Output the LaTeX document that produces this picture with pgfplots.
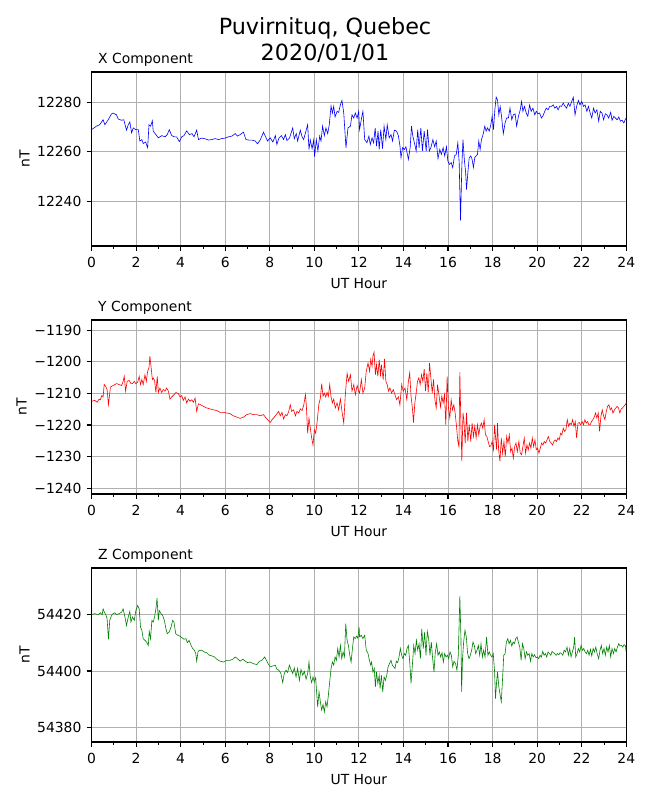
\documentclass[border=0pt]{standalone}
\usepackage{pgfplots}
\pgfplotsset{compat=1.18}
\usepackage{fontspec}
\setmainfont{DejaVu Sans}
\definecolor{gridgray}{HTML}{B0B0B0}
\definecolor{mplgreen}{HTML}{008000}
\newcommand{\tf}{\fontsize{13.9bp}{16bp}\selectfont}
\pgfplotsset{
 magstyle/.style={
  scale only axis, width=534.8bp, height=174bp, anchor=south west,
  xmin=0, xmax=24,
  scaled x ticks=false, scaled y ticks=false,
  xtick={0,2,4,6,8,10,12,14,16,18,20,22,24},
  xticklabels={0,2,4,6,8,10,12,14,16,18,20,22,24},
  minor xtick={1,3,5,7,9,11,13,15,17,19,21,23},
  tick align=outside, tick pos=left,
  major tick length=4.86bp, minor tick length=2.78bp,
  grid=major,
  major grid style={line width=1.05bp, draw=gridgray},
  axis line style={line width=1.11bp},
  major tick style={line width=1.11bp, black},
  minor tick style={line width=0.83bp, black},
  tick label style={font=\tf, inner sep=0pt},
  xticklabel style={yshift=-6.1bp},
  yticklabel style={xshift=-5bp},
  xlabel={UT Hour}, ylabel={nT},
  every axis x label/.style={at={(ticklabel cs:0.5,10.2bp)}, anchor=north, font=\tf, inner sep=0pt},
  every axis y label/.style={at={(ticklabel cs:0.5,7.5bp)}, rotate=90, anchor=south, font=\tf, inner sep=0pt},
  every axis title/.style={at={(axis description cs:0,1)}, anchor=base west, xshift=6.5bp, yshift=8.3bp, font=\tf, inner sep=0pt},
  clip=true,
 }
}
\begin{document}
\begin{tikzpicture}
\path[use as bounding box] (0,0) rectangle (650bp,800bp);
\node[anchor=base, font=\fontsize{22.3bp}{26bp}\selectfont, inner sep=0pt] at (325bp,765.7bp) {Puvirnituq, Quebec};
\node[anchor=base, font=\fontsize{22.3bp}{26bp}\selectfont, inner sep=0pt] at (325bp,739bp) {2020/01/01};

% ---------- X component ----------
\begin{axis}[magstyle, at={(91.5bp,554bp)},
  ymin=12221.9, ymax=12292.2,
  ytick={12240,12260,12280}, yticklabels={12240,12260,12280},
  title={X Component}]
\addplot[blue, line width=0.6bp] coordinates {
(0,12268.9)(0.22,12270.3)(0.37,12270.9)(0.52,12272.9)(0.60,12270.9)(0.75,12272.9)(0.90,12275.3)(0.97,12275.6)
(1.12,12274.9)(1.20,12273.2)(1.35,12272.7)(1.45,12272.9)(1.57,12268.7)(1.65,12270.9)(1.72,12272.0)(1.80,12267.6)
(1.87,12269.6)(1.99,12268.9)(2.10,12268.9)(2.17,12264.3)(2.26,12264.9)(2.32,12263.3)(2.43,12263.9)(2.52,12261.6)
(2.58,12270.9)(2.65,12270.3)(2.73,12272.5)(2.77,12268.3)(2.89,12266.9)(3.00,12265.6)(3.15,12266.5)(3.30,12266.0)
(3.40,12266.9)(3.49,12268.9)(3.60,12266.5)(3.72,12266.0)(3.82,12266.0)(3.94,12264.1)(4.05,12266.0)(4.15,12266.5)
(4.27,12268.4)(4.39,12266.9)(4.51,12267.3)(4.60,12266.0)(4.72,12268.7)(4.80,12264.9)(4.95,12265.5)(5.10,12265.2)
(5.25,12264.7)(5.40,12264.9)(5.55,12265.3)(5.70,12264.9)(5.85,12265.3)(6.00,12265.5)(6.15,12266.0)(6.30,12266.3)
(6.45,12267.3)(6.55,12266.3)(6.67,12266.9)(6.82,12267.9)(6.93,12264.9)(7.05,12264.7)(7.20,12264.7)(7.35,12264.3)
(7.45,12263.2)(7.57,12264.7)(7.72,12267.9)(7.80,12266.3)(7.90,12264.3)(8.02,12265.6)(8.14,12263.9)(8.25,12266.5)
(8.32,12262.9)(8.41,12265.5)(8.52,12266.5)(8.62,12264.9)(8.70,12266.9)(8.77,12264.5)(8.89,12265.6)(9.03,12269.6)
(9.10,12265.2)(9.19,12267.3)(9.25,12264.3)(9.37,12268.7)(9.45,12266.0)(9.52,12264.9)(9.61,12267.9)(9.70,12270.9)
(9.76,12260.9)(9.82,12264.7)(9.90,12261.2)(9.97,12264.7)(10.01,12258.0)(10.09,12264.9)(10.16,12260.3)(10.24,12266.3)
(10.30,12264.3)(10.37,12270.3)(10.45,12266.5)(10.52,12269.6)(10.60,12267.3)(10.67,12270.9)(10.75,12278.5)(10.81,12275.6)
(10.87,12278.3)(10.93,12274.0)(11.02,12276.3)(11.09,12275.9)(11.17,12278.9)(11.24,12280.7)(11.32,12275.6)(11.42,12261.6)
(11.51,12269.6)(11.62,12270.3)(11.69,12274.9)(11.77,12273.6)(11.84,12275.6)(11.92,12273.6)(11.99,12276.3)
(12.03,12268.9)(12.12,12273.6)(12.18,12276.3)(12.26,12264.9)(12.36,12263.6)(12.45,12266.3)(12.51,12262.9)(12.59,12265.6)
(12.66,12263.6)(12.73,12269.6)(12.79,12262.3)(12.86,12268.3)(12.91,12260.9)(12.98,12268.9)(13.06,12261.2)(13.13,12270.3)
(13.21,12264.9)(13.27,12270.9)(13.36,12265.6)(13.44,12266.9)(13.51,12264.3)(13.59,12268.7)(13.69,12268.3)(13.77,12266.5)
(13.84,12262.5)(13.89,12257.6)(13.96,12261.6)(14.04,12260.9)(14.11,12262.0)(14.22,12256.9)(14.30,12261.6)(14.36,12270.3)
(14.42,12266.3)(14.49,12263.6)(14.57,12260.3)(14.64,12268.9)(14.70,12261.6)(14.78,12269.6)(14.85,12260.3)(14.93,12268.3)
(15.02,12260.3)(15.08,12268.9)(15.16,12260.3)(15.23,12261.6)(15.32,12264.9)(15.40,12262.0)(15.47,12264.3)(15.55,12257.2)
(15.63,12260.9)(15.70,12258.9)(15.78,12261.6)(15.85,12258.3)(15.93,12262.0)(15.99,12256.3)(16.06,12254.9)(16.14,12255.6)
(16.21,12253.6)(16.29,12258.3)(16.37,12258.9)(16.44,12263.6)(16.50,12255.6)(16.56,12232.3)(16.62,12254.3)(16.67,12264.9)
(16.73,12256.9)(16.79,12251.6)(16.83,12244.7)(16.89,12251.6)(16.95,12257.6)(17.02,12258.3)(17.08,12256.9)(17.14,12253.6)
(17.20,12257.6)(17.26,12258.3)(17.32,12258.9)(17.38,12264.3)(17.44,12260.9)(17.50,12264.9)(17.57,12266.9)(17.65,12270.3)
(17.71,12268.3)(17.77,12269.6)(17.85,12268.3)(17.92,12270.9)(17.98,12274.3)(18.04,12268.9)(18.10,12276.9)(18.16,12282.0)
(18.22,12280.9)(18.28,12274.9)(18.34,12278.3)(18.40,12274.3)(18.48,12267.3)(18.56,12271.6)(18.63,12273.6)(18.71,12273.6)
(18.78,12277.6)(18.86,12272.9)(18.93,12274.9)(19.01,12275.3)(19.08,12270.3)(19.16,12274.3)(19.24,12276.9)(19.30,12280.3)
(19.36,12276.3)(19.43,12278.3)(19.51,12275.6)(19.58,12274.3)(19.66,12278.9)(19.73,12276.3)(19.81,12277.6)(19.89,12274.9)
(19.96,12276.3)(20.04,12275.3)(20.11,12275.6)(20.19,12273.6)(20.26,12274.5)(20.34,12276.3)(20.41,12277.6)(20.49,12276.9)
(20.56,12278.3)(20.64,12278.3)(20.72,12278.9)(20.79,12277.6)(20.87,12278.3)(20.94,12276.9)(21.02,12278.5)(21.09,12278.3)
(21.17,12279.6)(21.24,12278.5)(21.32,12277.6)(21.40,12279.6)(21.47,12278.3)(21.55,12280.3)(21.62,12282.0)(21.70,12274.9)
(21.77,12278.3)(21.85,12280.7)(21.92,12278.9)(22.00,12280.3)(22.08,12278.3)(22.15,12278.9)(22.23,12276.3)(22.30,12278.3)
(22.38,12275.6)(22.45,12273.6)(22.53,12277.6)(22.60,12275.6)(22.68,12276.9)(22.76,12272.3)(22.83,12276.3)(22.91,12275.6)
(22.98,12272.9)(23.06,12275.3)(23.13,12274.9)(23.21,12273.6)(23.30,12275.9)(23.36,12272.7)(23.44,12274.3)(23.51,12273.6)
(23.59,12272.9)(23.66,12274.0)(23.74,12272.3)(23.81,12272.7)(23.89,12271.6)(23.96,12273.2)(24.00,12273.6)
};
\end{axis}

% ---------- Y component ----------
\begin{axis}[magstyle, at={(91.5bp,306bp)},
  ymin=-1241.8, ymax=-1186.8,
  ytick={-1240,-1230,-1220,-1210,-1200,-1190},
  yticklabels={−1240,−1230,−1220,−1210,−1200,−1190},
  title={Y Component}]
\addplot[red, line width=0.6bp] coordinates {
(0.00,-1212.5)(0.15,-1212.2)(0.25,-1212.8)(0.34,-1211.8)(0.40,-1212.0)(0.46,-1210.7)(0.52,-1211.1)(0.57,-1207.2)
(0.64,-1207.8)(0.70,-1208.8)(0.76,-1213.6)(0.85,-1208.0)(0.97,-1207.5)(1.12,-1206.9)(1.24,-1207.2)(1.35,-1207.5)
(1.42,-1206.2)(1.47,-1204.6)(1.53,-1209.3)(1.60,-1206.2)(1.69,-1205.9)(1.77,-1206.9)(1.84,-1206.9)(1.92,-1206.2)
(1.99,-1206.9)(2.07,-1206.5)(2.14,-1204.6)(2.20,-1207.2)(2.26,-1205.6)(2.32,-1207.2)(2.40,-1204.1)(2.46,-1206.2)
(2.52,-1203.0)(2.58,-1201.9)(2.62,-1198.2)(2.67,-1201.4)(2.73,-1205.6)(2.77,-1205.1)(2.83,-1205.9)(2.89,-1209.7)
(2.95,-1204.6)(3.00,-1209.7)(3.07,-1208.3)(3.15,-1209.7)(3.22,-1208.8)(3.30,-1209.3)(3.37,-1208.3)(3.45,-1209.3)
(3.52,-1211.8)(3.60,-1211.1)(3.70,-1210.4)(3.79,-1209.7)(3.90,-1210.1)(3.97,-1211.1)(4.05,-1210.7)(4.12,-1212.2)
(4.20,-1211.1)(4.27,-1213.0)(4.35,-1211.8)(4.42,-1212.5)(4.50,-1212.0)(4.57,-1212.8)(4.65,-1211.5)(4.72,-1215.7)
(4.80,-1213.3)(4.90,-1213.6)(5.02,-1214.1)(5.17,-1214.6)(5.32,-1214.9)(5.47,-1215.2)(5.62,-1215.4)(5.77,-1216.0)
(5.92,-1216.0)(6.07,-1216.2)(6.22,-1216.4)(6.37,-1217.1)(6.52,-1217.5)(6.67,-1217.9)(6.82,-1217.5)(6.97,-1216.7)
(7.12,-1216.4)(7.27,-1216.7)(7.42,-1216.7)(7.57,-1217.1)(7.72,-1216.7)(7.80,-1217.5)(7.90,-1218.3)(8.02,-1219.2)
(8.10,-1218.3)(8.17,-1217.8)(8.25,-1217.1)(8.32,-1216.4)(8.40,-1215.7)(8.47,-1217.1)(8.55,-1216.0)(8.62,-1218.1)
(8.70,-1216.7)(8.77,-1217.1)(8.85,-1215.7)(8.92,-1213.6)(8.98,-1215.7)(9.07,-1215.2)(9.15,-1217.1)(9.22,-1215.7)
(9.30,-1216.2)(9.37,-1214.9)(9.45,-1215.4)(9.52,-1213.9)(9.60,-1210.4)(9.64,-1213.6)(9.70,-1222.6)(9.76,-1217.8)
(9.82,-1221.0)(9.88,-1224.1)(9.94,-1226.3)(10.00,-1221.5)(10.06,-1222.6)(10.12,-1219.4)(10.20,-1213.6)(10.27,-1211.5)
(10.33,-1206.9)(10.39,-1210.9)(10.45,-1209.9)(10.51,-1211.1)(10.57,-1209.7)(10.63,-1210.9)(10.69,-1207.2)(10.75,-1211.1)
(10.81,-1213.0)(10.87,-1211.8)(10.94,-1214.6)(11.02,-1213.0)(11.09,-1215.2)(11.17,-1211.8)(11.24,-1215.7)(11.32,-1219.4)
(11.39,-1210.4)(11.47,-1203.7)(11.54,-1206.2)(11.62,-1204.1)(11.69,-1209.3)(11.77,-1207.2)(11.84,-1210.4)(11.92,-1207.5)
(11.99,-1209.3)
(12.03,-1209.9)(12.11,-1205.6)(12.18,-1209.9)(12.26,-1208.3)(12.33,-1203.0)(12.41,-1200.4)(12.48,-1203.0)(12.53,-1199.3)
(12.59,-1201.4)(12.63,-1198.2)(12.68,-1197.0)(12.74,-1204.1)(12.79,-1200.9)(12.85,-1204.6)(12.91,-1199.3)(12.97,-1204.6)
(13.01,-1200.9)(13.09,-1205.6)(13.15,-1199.1)(13.21,-1206.2)(13.27,-1207.2)(13.33,-1209.3)(13.39,-1208.3)(13.47,-1209.9)
(13.54,-1208.8)(13.62,-1210.4)(13.69,-1212.0)(13.77,-1211.1)(13.84,-1213.6)(13.92,-1207.2)(13.99,-1209.3)(14.07,-1208.3)
(14.15,-1212.0)(14.22,-1206.2)(14.28,-1203.5)(14.34,-1210.9)(14.40,-1214.6)(14.45,-1219.2)(14.51,-1213.0)(14.57,-1209.9)
(14.63,-1206.2)(14.69,-1205.1)(14.75,-1207.2)(14.81,-1204.1)(14.87,-1206.2)(14.93,-1202.3)(14.99,-1209.3)(15.05,-1203.5)
(15.11,-1209.7)(15.17,-1200.4)(15.23,-1205.1)(15.29,-1209.9)(15.35,-1205.6)(15.41,-1212.0)(15.47,-1214.6)(15.53,-1207.2)
(15.60,-1210.9)(15.66,-1214.3)(15.72,-1210.9)(15.78,-1213.0)(15.84,-1210.4)(15.90,-1219.9)(15.96,-1204.6)(16.02,-1214.6)
(16.08,-1217.8)(16.14,-1212.0)(16.20,-1215.2)(16.26,-1213.6)(16.32,-1216.2)(16.38,-1220.4)(16.44,-1225.2)(16.49,-1226.8)
(16.53,-1203.3)(16.58,-1220.4)(16.62,-1231.5)(16.67,-1216.2)(16.71,-1218.3)(16.77,-1225.7)(16.83,-1216.2)(16.89,-1225.2)
(16.95,-1219.9)(17.02,-1225.2)(17.08,-1219.4)(17.14,-1223.6)(17.20,-1220.4)(17.26,-1224.1)(17.32,-1219.9)(17.38,-1223.1)
(17.44,-1220.4)(17.50,-1219.4)(17.56,-1221.0)(17.62,-1218.3)(17.68,-1223.1)(17.74,-1223.6)(17.80,-1225.2)(17.86,-1226.8)
(17.92,-1226.6)(17.98,-1225.2)(18.04,-1227.8)(18.09,-1219.9)(18.13,-1223.6)(18.18,-1227.8)(18.22,-1219.4)(18.27,-1227.8)
(18.33,-1231.5)(18.39,-1224.1)(18.45,-1228.9)(18.51,-1225.2)(18.57,-1230.0)(18.63,-1223.6)(18.69,-1225.7)(18.75,-1223.1)
(18.81,-1228.4)(18.87,-1227.3)(18.93,-1230.5)(18.99,-1226.8)(19.05,-1225.7)(19.11,-1228.4)(19.18,-1225.2)(19.24,-1228.9)
(19.30,-1229.4)(19.36,-1226.8)(19.42,-1224.1)(19.48,-1228.9)(19.54,-1226.3)(19.60,-1227.8)(19.66,-1225.7)(19.72,-1227.3)
(19.78,-1224.1)(19.84,-1226.8)(19.90,-1224.7)(19.96,-1227.8)(20.02,-1227.3)(20.08,-1228.9)(20.14,-1227.3)(20.20,-1225.7)
(20.26,-1226.3)(20.32,-1225.2)(20.38,-1225.7)(20.44,-1224.7)(20.50,-1223.6)(20.57,-1225.2)(20.63,-1225.7)(20.69,-1226.3)
(20.75,-1225.2)(20.81,-1224.7)(20.87,-1225.2)(20.93,-1224.1)(20.99,-1224.7)(21.05,-1222.6)(21.11,-1223.1)(21.17,-1221.0)
(21.23,-1222.0)(21.29,-1221.5)(21.35,-1218.3)(21.41,-1220.4)(21.47,-1219.4)(21.53,-1219.9)(21.59,-1218.3)(21.65,-1220.4)
(21.71,-1218.9)(21.77,-1224.1)(21.83,-1219.4)(21.89,-1219.2)(21.95,-1219.9)(22.02,-1218.9)(22.08,-1219.9)(22.14,-1218.3)
(22.20,-1219.4)(22.26,-1218.9)(22.32,-1219.9)(22.38,-1219.9)(22.44,-1218.9)(22.50,-1218.3)(22.56,-1217.5)(22.62,-1216.2)
(22.68,-1217.8)(22.74,-1216.2)(22.80,-1222.0)(22.86,-1217.3)(22.92,-1215.2)(22.98,-1217.1)(23.04,-1218.3)(23.10,-1215.7)
(23.16,-1214.1)(23.22,-1213.6)(23.28,-1215.2)(23.34,-1214.6)(23.40,-1216.2)(23.47,-1215.2)(23.53,-1214.6)(23.59,-1214.1)
(23.65,-1214.6)(23.71,-1216.2)(23.77,-1214.9)(23.83,-1214.6)(23.89,-1214.1)(23.95,-1213.6)(23.98,-1213.3)(24.00,-1212.8)
};
\end{axis}

% ---------- Z component ----------
\begin{axis}[magstyle, at={(91.5bp,58bp)},
  ymin=54374.8, ymax=54436.6,
  ytick={54380,54400,54420}, yticklabels={54380,54400,54420},
  title={Z Component}]
\addplot[mplgreen, line width=0.6bp] coordinates {
(0.00,54420.0)(0.15,54420.4)(0.30,54420.0)(0.40,54420.7)(0.48,54420.0)(0.52,54422.1)(0.58,54420.9)(0.64,54420.0)
(0.70,54418.6)(0.76,54411.3)(0.82,54418.0)(0.90,54419.8)(0.97,54420.4)(1.05,54420.7)(1.12,54420.0)(1.24,54420.4)
(1.35,54420.9)(1.42,54422.1)(1.50,54419.2)(1.57,54416.2)(1.65,54419.2)(1.72,54421.2)(1.77,54417.4)(1.84,54419.2)
(1.92,54418.0)(1.99,54421.5)(2.07,54423.3)(2.14,54422.1)(2.20,54415.6)(2.26,54414.5)(2.32,54411.5)(2.40,54410.9)
(2.47,54410.3)(2.55,54409.1)(2.59,54414.1)(2.65,54411.5)(2.71,54418.0)(2.77,54417.4)(2.83,54419.2)(2.89,54422.1)
(2.94,54425.9)(3.00,54418.0)(3.04,54421.5)(3.12,54420.4)(3.19,54419.8)(3.27,54418.0)(3.34,54415.0)(3.40,54413.3)
(3.49,54413.9)(3.57,54415.6)(3.64,54418.0)(3.70,54417.4)(3.78,54413.3)(3.87,54412.7)(3.97,54412.4)(4.08,54411.7)
(4.15,54411.3)(4.24,54411.5)(4.30,54410.1)(4.38,54410.9)(4.47,54409.1)(4.54,54408.0)(4.62,54407.4)(4.68,54406.2)
(4.72,54403.5)(4.78,54406.8)(4.84,54407.4)(4.95,54407.4)(5.05,54406.8)(5.17,54406.5)(5.29,54405.6)(5.40,54405.4)
(5.52,54405.0)(5.62,54404.2)(5.77,54403.5)(5.92,54403.2)(6.07,54403.8)(6.22,54403.8)(6.34,54404.2)(6.45,54405.0)
(6.55,54404.4)(6.67,54403.5)(6.79,54404.2)(6.90,54403.5)(7.00,54403.0)(7.12,54403.2)(7.27,54402.6)(7.42,54402.3)
(7.54,54403.5)(7.65,54403.8)(7.77,54405.0)(7.87,54403.5)(7.95,54402.3)(8.02,54401.5)(8.14,54401.8)(8.25,54402.1)
(8.32,54400.6)(8.41,54400.3)(8.50,54399.1)(8.58,54395.9)(8.65,54399.1)(8.73,54400.3)(8.80,54399.5)(8.88,54402.1)
(8.95,54400.6)(9.03,54399.1)(9.10,54401.1)(9.18,54397.9)(9.25,54400.9)(9.33,54396.7)(9.40,54400.6)(9.48,54398.5)
(9.55,54399.9)(9.63,54397.1)(9.70,54399.1)(9.76,54403.2)(9.82,54397.9)(9.88,54395.9)(9.94,54397.9)(10.00,54396.2)
(10.06,54397.6)(10.10,54392.8)(10.15,54387.3)(10.21,54392.6)(10.27,54389.1)(10.33,54386.1)(10.39,54388.1)(10.45,54385.5)
(10.51,54389.1)(10.57,54387.3)(10.63,54391.4)(10.69,54396.2)(10.75,54400.9)(10.81,54403.2)(10.87,54402.1)(10.93,54405.0)
(10.99,54403.8)(11.05,54408.0)(11.11,54405.0)(11.17,54409.1)(11.23,54404.4)(11.29,54406.8)(11.35,54405.0)(11.41,54416.8)
(11.47,54410.9)(11.53,54409.1)(11.59,54405.6)(11.65,54403.2)(11.71,54408.0)(11.77,54412.1)(11.83,54411.5)(11.89,54412.4)
(11.95,54411.7)(12.01,54415.6)
(12.03,54412.1)(12.11,54412.7)(12.18,54411.5)(12.26,54412.7)(12.33,54407.4)(12.41,54406.2)(12.48,54403.5)(12.53,54402.1)
(12.57,54403.2)(12.63,54399.7)(12.69,54400.9)(12.74,54394.4)(12.79,54399.7)(12.85,54395.6)(12.91,54398.5)(12.95,54393.8)
(13.01,54398.5)(13.07,54392.6)(13.13,54397.9)(13.19,54396.7)(13.25,54398.5)(13.31,54401.5)(13.37,54402.6)(13.44,54403.8)
(13.50,54402.1)(13.56,54401.5)(13.62,54400.9)(13.68,54403.5)(13.74,54403.0)(13.80,54405.0)(13.86,54408.0)(13.92,54405.6)
(13.98,54404.4)(14.04,54406.2)(14.10,54405.6)(14.16,54408.0)(14.22,54409.1)(14.28,54403.2)(14.34,54395.6)(14.40,54402.1)
(14.46,54409.1)(14.52,54406.2)(14.58,54410.9)(14.64,54407.4)(14.70,54409.7)(14.76,54404.4)(14.82,54415.0)(14.89,54408.0)
(14.95,54413.9)(15.01,54405.6)(15.07,54414.1)(15.13,54411.5)(15.19,54405.6)(15.25,54410.3)(15.31,54404.4)(15.37,54399.7)
(15.43,54406.8)(15.49,54409.7)(15.55,54405.6)(15.61,54406.8)(15.67,54405.0)(15.73,54406.5)(15.79,54403.2)(15.85,54406.2)
(15.91,54405.0)(15.97,54405.6)(16.03,54404.4)(16.09,54406.8)(16.15,54405.6)(16.21,54401.5)(16.27,54403.5)(16.34,54402.6)
(16.40,54400.3)(16.46,54405.6)(16.50,54417.4)(16.53,54426.6)(16.58,54411.5)(16.61,54392.6)(16.65,54404.4)(16.70,54410.3)
(16.76,54414.5)(16.82,54412.1)(16.88,54406.2)(16.94,54404.4)(17.00,54405.6)(17.06,54407.4)(17.12,54410.3)(17.18,54409.1)
(17.24,54406.2)(17.30,54407.4)(17.36,54409.1)(17.42,54405.6)(17.48,54409.7)(17.54,54405.0)(17.60,54407.4)(17.66,54405.0)
(17.73,54412.1)(17.79,54405.6)(17.85,54406.8)(17.91,54405.6)(17.97,54405.0)(18.03,54406.2)(18.09,54399.7)(18.13,54390.2)
(18.18,54396.2)(18.22,54399.7)(18.28,54394.4)(18.34,54391.4)(18.39,54389.1)(18.44,54396.2)(18.50,54405.6)(18.56,54406.2)
(18.62,54410.3)(18.68,54411.5)(18.74,54409.7)(18.80,54410.9)(18.86,54408.9)(18.92,54410.3)(18.98,54409.7)(19.04,54411.5)
(19.10,54412.1)(19.16,54410.1)(19.22,54408.5)(19.28,54403.8)(19.34,54409.7)(19.40,54408.0)(19.46,54404.4)(19.52,54406.8)
(19.58,54405.6)(19.64,54406.2)(19.70,54403.5)(19.76,54406.2)(19.82,54405.0)(19.88,54405.8)(19.95,54404.7)(20.01,54405.0)
(20.07,54404.4)(20.13,54405.6)(20.19,54405.0)(20.25,54407.0)(20.31,54405.6)(20.37,54406.2)(20.43,54405.0)(20.49,54406.8)
(20.55,54406.2)(20.61,54405.6)(20.67,54407.0)(20.73,54406.5)(20.79,54406.2)(20.85,54405.6)(20.91,54406.2)(20.97,54405.8)
(21.03,54406.5)(21.09,54406.2)(21.15,54405.6)(21.21,54407.4)(21.27,54406.8)(21.34,54408.5)(21.40,54405.6)(21.46,54408.0)
(21.52,54405.0)(21.58,54406.8)(21.64,54408.5)(21.68,54412.1)(21.73,54405.0)(21.79,54406.2)(21.85,54408.0)(21.91,54406.8)
(21.97,54409.1)(22.03,54407.4)(22.09,54408.0)(22.15,54406.8)(22.21,54406.2)(22.27,54407.4)(22.33,54405.6)(22.39,54407.7)
(22.45,54405.4)(22.51,54408.0)(22.57,54406.8)(22.63,54408.5)(22.69,54406.2)(22.76,54404.4)(22.82,54407.4)(22.88,54409.1)
(22.94,54406.2)(23.00,54408.0)(23.06,54405.6)(23.12,54408.5)(23.18,54406.8)(23.24,54409.1)(23.30,54405.0)(23.36,54408.0)
(23.42,54406.2)(23.48,54408.0)(23.54,54406.8)(23.60,54408.5)(23.66,54409.7)(23.72,54408.9)(23.78,54409.1)(23.84,54408.5)
(23.90,54409.4)(23.96,54408.9)(23.98,54407.7)(24.00,54409.1)
};
\end{axis}
\end{tikzpicture}
\end{document}
